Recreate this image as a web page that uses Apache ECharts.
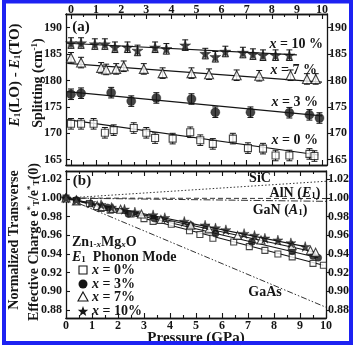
<!DOCTYPE html>
<html><head><meta charset="utf-8">
<script src="https://cdn.jsdelivr.net/npm/echarts@6/dist/echarts.min.js"></script>
<style>html,body{margin:0;padding:0;background:#fff}#c{width:356px;height:348px}</style>
</head><body><div id="c"></div>
<script>
// ---------- DATA ----------
const xTicks = [0,1,2,3,4,5,6,7,8,9,10];
const xMinor = [0.5,1.5,2.5,3.5,4.5,5.5,6.5,7.5,8.5,9.5];
const yTicksA = [165,170,175,180,185,190];
const yTicksB = [0.88,0.90,0.92,0.94,0.96,0.98,1.00,1.02];

// panel (a): splitting E1(LO)-E1(TO), cm-1
const aP0 = [0,0.4,0.9,1.35,1.7,2.5,3.0,3.35,4.05,4.75,5.15,5.65,6.45,7.05,7.65,8.15,8.7,9.5,9.7];
const aV0 = [171.8,171.8,171.8,170.1,170.6,171.0,170.1,169.1,169.0,170.2,168.7,168.0,169.0,167.2,167.1,165.8,165.8,166.1,165.7];
const aP3 = [0,0.4,1.6,2.4,3.4,4.8,5.75,7.15,8.7,9.5,9.9];
const aV3 = [177.4,177.6,177.7,176.1,176.7,176.5,174.0,174.0,173.9,173.5,172.9];
const aP7 = [0,0.4,1.2,1.4,1.8,2.1,2.9,3.65,4.8,5.5,6.6,7.5,8.75,9.4,9.75];
const aV7 = [184.3,183.4,182.4,182.1,182.2,182.7,182.2,181.4,181.4,181.2,181.0,180.9,181.0,180.3,180.3];
const aP10 = [0,0.4,0.95,1.35,1.75,2.25,2.65,3.35,3.8,4.55,5.35,5.75,6.15,6.85,7.25,7.65,8.15,8.7];
const aV10 = [187.1,187.1,186.9,186.9,186.3,186.3,185.7,186.3,186.0,186.7,185.1,184.5,185.5,185.3,185.0,184.8,184.8,184.8];
const aErr = 1.0;
const aFit0 = [[-0.15,172.6],[9.85,165.9]];
const aFit3 = [[-0.15,177.9],[10.0,173.3]];
const aFit7 = [[-0.15,183.25],[10.0,179.7]];
const aFit10 = [[-0.15,187.05],[9.0,184.85]];

// panel (b): normalized transverse effective charge
const bP0 = [0,0.4,0.9,1.35,1.7,2.5,3.0,3.35,4.05,4.75,5.15,5.65,6.45,7.05,7.65,8.15,8.7,9.5,9.9];
const bV0 = [1.000,0.997,0.994,0.989,0.987,0.983,0.978,0.975,0.972,0.965,0.961,0.957,0.953,0.948,0.944,0.940,0.937,0.930,0.928];
const bP3 = [0,0.4,1.6,2.4,3.4,4.8,5.75,7.15,8.7,9.5,9.7];
const bV3 = [1.000,0.998,0.990,0.983,0.978,0.971,0.962,0.953,0.943,0.938,0.936];
const bP7 = [0,0.4,1.2,1.4,1.8,2.1,2.9,3.65,4.8,5.5,6.6,7.5,8.7,9.4,9.6];
const bV7 = [1.000,0.997,0.992,0.991,0.989,0.988,0.983,0.977,0.971,0.967,0.960,0.955,0.949,0.944,0.942];
const bP10 = [0,0.4,0.95,1.35,1.75,2.25,2.65,3.35,3.8,4.55,5.35,5.75,6.15,6.85,7.25,7.65,8.15,8.65,9.2];
const bV10 = [1.000,0.998,0.995,0.993,0.990,0.988,0.985,0.982,0.979,0.975,0.971,0.968,0.966,0.962,0.960,0.957,0.955,0.952,0.948];
const bFit0 = [[0,1.0],[9.9,0.928]];
const bFit3 = [[0,1.0],[9.7,0.936]];
const bFit7 = [[0,1.0],[9.6,0.942]];
const bFit10 = [[0,1.0],[9.2,0.948]];
const refP = [0,10];
const refSiC = [1.0,1.018];
const refAlN = [1.0,0.9995];
const refGaN = [1.0,0.9965];
const refGaAs = [1.0,0.883];

// ---------- CHART ----------
const FF = "'Liberation Serif','Times New Roman',serif";
const INK = '#151515';
const STAR = 'path://M50,0 L61,35 L98,35 L68,57 L79,91 L50,70 L21,91 L32,57 L2,35 L39,35 Z';
const zip = (p,v) => p.map((x,i)=>[x,v[i]]);
const lbl = {fontFamily:FF,fontWeight:'bold',fontSize:12,color:INK};

function xAx(grid,min,max,pos,labels,ticks,len,margin){
  return {type:'value',gridIndex:grid,min:min,max:max,position:pos,
    axisLine:{show:true,onZero:false,lineStyle:{color:INK,width:1.3}},
    axisTick:{show:true,inside:true,length:len,customValues:ticks,lineStyle:{color:INK,width:1.1}},
    axisLabel:labels?Object.assign({show:true,margin:margin,customValues:xTicks},lbl):{show:false},
    splitLine:{show:false}};
}
function yAx(grid,min,max,pos,ticks,inside,fmt){
  return {type:'value',gridIndex:grid,min:min,max:max,position:pos,
    axisLine:{show:true,onZero:false,lineStyle:{color:INK,width:1.3}},
    axisTick:{show:true,inside:inside,length:4,customValues:ticks,lineStyle:{color:INK,width:1.1}},
    axisLabel:Object.assign({show:true,margin:inside?4:2,customValues:ticks,formatter:fmt},lbl),
    splitLine:{show:false}};
}
const xAxes = [
  xAx(0,-0.2,10.2,'top',true,xTicks,5,-2),
  xAx(0,-0.2,10.2,'bottom',false,xTicks,5),
  xAx(0,-0.2,10.2,'top',false,xMinor,3),
  xAx(0,-0.2,10.2,'bottom',false,xMinor,3),
  xAx(1,0,10,'bottom',true,xTicks,5,2),
  xAx(1,0,10,'top',false,xTicks,5),
  xAx(1,0,10,'bottom',false,xMinor,3),
  xAx(1,0,10,'top',false,xMinor,3)
];
const fa = v=>String(v), fb = v=>v.toFixed(2);
const yAxes = [
  yAx(0,164,192.6,'left',yTicksA,true,fa),
  yAx(0,164,192.6,'right',yTicksA,false,fa),
  yAx(1,0.8715,1.029,'left',yTicksB,true,fb),
  yAx(1,0.8715,1.029,'right',yTicksB,false,fb)
];

function errSeries(p,v){
  return {type:'custom',xAxisIndex:0,yAxisIndex:0,z:2,silent:true,
    data:p.map((x,i)=>[x,v[i],aErr]),
    renderItem:function(params,api){
      const x=api.value(0),y=api.value(1),e=api.value(2);
      const t=api.coord([x,y+e]),b=api.coord([x,y-e]);
      const st={stroke:INK,lineWidth:1};
      return {type:'group',children:[
        {type:'line',shape:{x1:t[0],y1:t[1],x2:b[0],y2:b[1]},style:st},
        {type:'line',shape:{x1:t[0]-3,y1:t[1],x2:t[0]+3,y2:t[1]},style:st},
        {type:'line',shape:{x1:b[0]-3,y1:b[1],x2:b[0]+3,y2:b[1]},style:st}]};
    }};
}
function fitSeries(xi,yi,pts,style){
  return {type:'line',xAxisIndex:xi,yAxisIndex:yi,data:pts,symbol:'none',z:3,silent:true,
    lineStyle:Object.assign({color:INK,width:1.1},style||{})};
}
function markSeries(xi,yi,pts,sym,size,open){
  return {type:'scatter',xAxisIndex:xi,yAxisIndex:yi,data:pts,symbol:sym,symbolSize:size,z:5,silent:true,
    itemStyle:open?{color:'#fff',borderColor:INK,borderWidth:1.1}:{color:INK,borderColor:INK,borderWidth:0.5}};
}

const series = [
  errSeries(aP0,aV0),errSeries(aP3,aV3),errSeries(aP7,aV7),errSeries(aP10,aV10),
  fitSeries(0,0,aFit0),fitSeries(0,0,aFit3),fitSeries(0,0,aFit7),fitSeries(0,0,aFit10),
  markSeries(0,0,zip(aP0,aV0),'rect',7,true),
  markSeries(0,0,zip(aP3,aV3),'circle',9,false),
  markSeries(0,0,zip(aP7,aV7),'triangle',9,true),
  markSeries(0,0,zip(aP10,aV10),STAR,11,false),
  fitSeries(4,2,zip(refP,refSiC),{type:[1.5,2],width:1,color:'#333'}),
  fitSeries(4,2,zip(refP,refAlN),{type:[5,3],width:1,color:'#333'}),
  fitSeries(4,2,zip(refP,refGaN),{type:[7,2,1.5,2],width:1,color:'#333'}),
  fitSeries(4,2,zip(refP,refGaAs),{type:[6,2,1.5,2,1.5,2],width:1,color:'#333'}),
  fitSeries(4,2,bFit0),fitSeries(4,2,bFit3),fitSeries(4,2,bFit7),fitSeries(4,2,bFit10),
  markSeries(4,2,zip(bP0,bV0),'rect',6,true),
  markSeries(4,2,zip(bP3,bV3),'circle',7,false),
  markSeries(4,2,zip(bP7,bV7),'triangle',8,true),
  markSeries(4,2,zip(bP10,bV10),STAR,10,false)
];

const B = 'bold 14px '+FF;
const richBase = {
  i:{fontFamily:FF,fontWeight:'bold',fontStyle:'italic',fontSize:14,fill:INK},
  s:{fontFamily:FF,fontWeight:'bold',fontSize:9,fill:INK,padding:[6,0,0,0]},
  si:{fontFamily:FF,fontWeight:'bold',fontStyle:'italic',fontSize:9,fill:INK,padding:[6,0,0,0]},
  u:{fontFamily:FF,fontWeight:'bold',fontSize:9,fill:INK,padding:[0,0,6,0]}
};
function txt(x,y,text,opts){
  opts=opts||{};
  return {type:'text',x:x,y:y,rotation:opts.rot||0,z:100,silent:true,
    style:{text:text,font:opts.font||B,fill:INK,align:opts.align||'center',verticalAlign:'middle',rich:richBase}};
}
function starPts(cx,cy,R){
  const pts=[];
  for(let k=0;k<10;k++){
    const r=k%2?R*0.42:R, a=-Math.PI/2+k*Math.PI/5;
    pts.push([cx+r*Math.cos(a),cy+r*Math.sin(a)]);
  }
  return pts;
}
const legX = 83;
const graphic = [
  {type:'rect',shape:{x:4,y:1.5,width:347,height:341.5},style:{fill:'none',stroke:'#1d22f2',lineWidth:4},z:200,silent:true},
  txt(81,27,'(a)',{font:'bold 15px '+FF}),
  txt(82,181,'(b)',{font:'bold 15px '+FF}),
  txt(323,44,'{i|x} = 10 %',{align:'right'}),
  txt(317,70,'{i|x} = 7 %',{align:'right'}),
  txt(318,102,'{i|x} = 3 %',{align:'right'}),
  txt(318,140,'{i|x} = 0 %',{align:'right'}),
  txt(260,178,'SiC'),
  txt(295,193,'AlN ({i|E}{s|1})'),
  txt(280,210,'GaN ({i|A}{s|1})'),
  txt(265,292,'GaAs'),
  txt(72,242,'Zn{s|1-}{si|x}Mg{si|x}O',{align:'left'}),
  txt(72,257,'{i|E}{s|1}  Phonon Mode',{align:'left'}),
  txt(92,270,'{i|x} = 0%',{align:'left'}),
  txt(92,284,'{i|x} = 3%',{align:'left'}),
  txt(92,297,'{i|x} = 7%',{align:'left'}),
  txt(92,311,'{i|x} = 10%',{align:'left'}),
  {type:'rect',shape:{x:legX-4,y:266,width:8,height:8},style:{fill:'#fff',stroke:INK,lineWidth:1.1},z:100,silent:true},
  {type:'circle',shape:{cx:legX,cy:284,r:4.5},style:{fill:INK},z:100,silent:true},
  {type:'polygon',shape:{points:[[legX,292],[legX+5,301],[legX-5,301]]},style:{fill:'#fff',stroke:INK,lineWidth:1.1},z:100,silent:true},
  {type:'polygon',shape:{points:starPts(legX,311.5,5.5)},style:{fill:INK},z:100,silent:true},
  txt(15,75,'{i|E}{s|1}(LO) - {i|E}{s|1}(TO)',{rot:Math.PI/2,font:'bold 15px '+FF}),
  txt(38,83,'Splitting (cm{u|-1})',{rot:Math.PI/2}),
  txt(14,240,'Normalized Transverse',{rot:Math.PI/2}),
  txt(34,242,'Effective Charge e{u|*}{s|T}/e{u|*}{s|T}(0)',{rot:Math.PI/2}),
  txt(196,338,'Pressure (GPa)',{font:'bold 15px '+FF})
];

const chart = echarts.init(document.getElementById('c'),null,{renderer:'canvas'});
chart.setOption({
  backgroundColor:'#fff',animation:false,
  grid:[{left:66,right:29,top:14,height:151},{left:66,right:30,top:171,height:147}],
  xAxis:xAxes,yAxis:yAxes,series:series,graphic:graphic
});
</script></body></html>
